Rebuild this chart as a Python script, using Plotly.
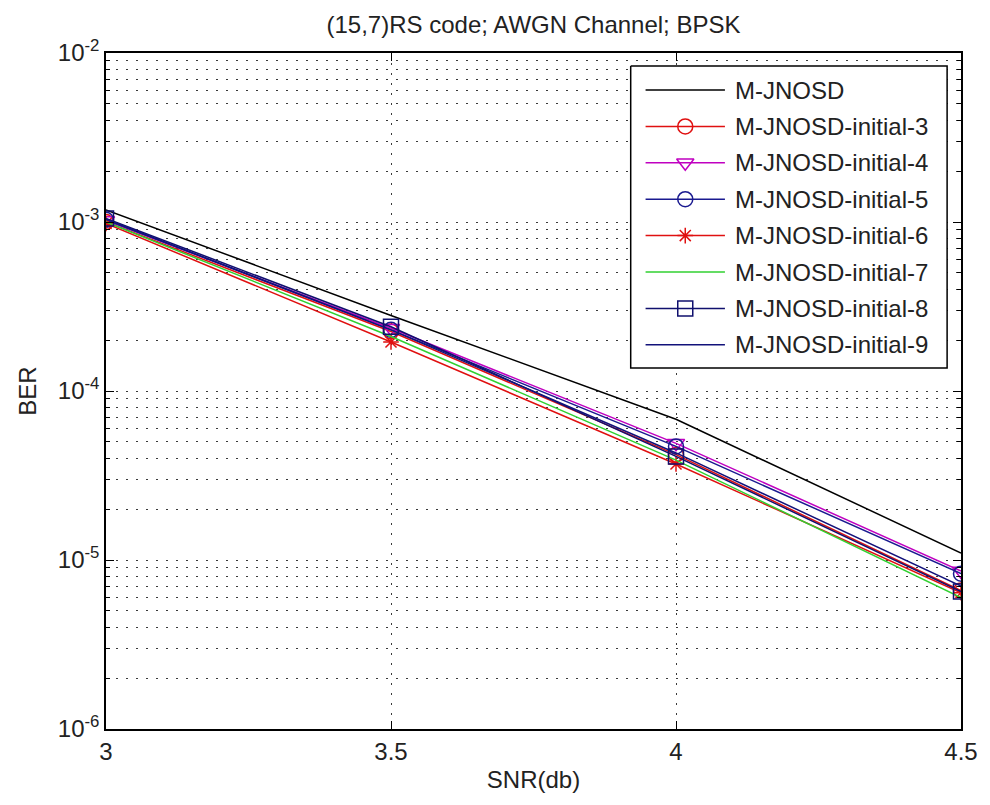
import plotly.graph_objects as go

# ---- data -------------------------------------------------------------
snr_db = [3.0, 3.5, 4.0, 4.5]

series_names = [
    "M-JNOSD",
    "M-JNOSD-initial-3",
    "M-JNOSD-initial-4",
    "M-JNOSD-initial-5",
    "M-JNOSD-initial-6",
    "M-JNOSD-initial-7",
    "M-JNOSD-initial-8",
    "M-JNOSD-initial-9",
]

ber_mjnosd = [1.18e-3, 2.8e-4, 6.8e-5, 1.1e-5]
ber_init3 = [1.00e-3, 2.25e-4, 4.2e-5, 6.6e-6]
ber_init4 = [1.02e-3, 2.35e-4, 4.9e-5, 8.6e-6]
ber_init5 = [1.03e-3, 2.30e-4, 4.7e-5, 8.3e-6]
ber_init6 = [0.98e-3, 1.95e-4, 3.7e-5, 6.4e-6]
ber_init7 = [1.00e-3, 2.10e-4, 3.9e-5, 6.0e-6]
ber_init8 = [1.05e-3, 2.40e-4, 4.1e-5, 6.5e-6]
ber_init9 = [1.04e-3, 2.30e-4, 4.3e-5, 7.0e-6]

series_values = [ber_mjnosd, ber_init3, ber_init4, ber_init5,
                 ber_init6, ber_init7, ber_init8, ber_init9]

y_tick_vals = [1e-6, 1e-5, 1e-4, 1e-3, 1e-2]
y_tick_text = ["10<sup>-6</sup>", "10<sup>-5</sup>", "10<sup>-4</sup>",
               "10<sup>-3</sup>", "10<sup>-2</sup>"]
x_tick_vals = [3, 3.5, 4, 4.5]
x_tick_text = ["3", "3.5", "4", "4.5"]

# ---- styles -----------------------------------------------------------
colors = ["#000000", "#e01010", "#c000c0", "#1a1a90",
          "#e01010", "#30d030", "#10106e", "#12127a"]
symbols = [None, "circle-open", "triangle-down-open", "circle-open",
           "asterisk-open", None, "square-open", None]
marker_sizes = [0, 15, 15, 15, 13, 0, 15, 0]

FONT = "Liberation Sans, Arial, sans-serif"
TEXT_COLOR = "#222222"
W, H = 990, 805
ML, MR, MT, MB = 106, 22, 53, 76
PW, PH = W - ML - MR, H - MT - MB


def px_x(p):
    return (p - ML) / PW


def px_y(p):
    return (H - MB - p) / PH


fig = go.Figure()

for name, vals, col, sym, ms in zip(series_names, series_values, colors,
                                    symbols, marker_sizes):
    mode = "lines+markers" if sym else "lines"
    fig.add_trace(go.Scatter(
        x=snr_db, y=vals, mode=mode, name=name, showlegend=False,
        line=dict(color=col, width=1.5),
        marker=dict(symbol=sym or "circle", size=ms, color=col,
                    line=dict(color=col, width=1.5)),
    ))

# ---- legend box (overlay axes in paper units) -------------------------
box_l, box_r, box_t, box_b = px_x(635), px_x(954), px_y(66), px_y(368)
fig.add_trace(go.Scatter(
    x=[box_l, box_r, box_r, box_l, box_l],
    y=[box_t, box_t, box_b, box_b, box_t],
    mode="lines", fill="toself", fillcolor="white",
    line=dict(color="black", width=1.5),
    xaxis="x2", yaxis="y2", showlegend=False, hoverinfo="skip",
))

row0, row_step = 90, 36.4
seg_l, seg_m, seg_r, text_x = 650, 690, 730, 738
for i, (name, col, sym, ms) in enumerate(zip(series_names, colors,
                                             symbols, marker_sizes)):
    ry = px_y(row0 + i * row_step)
    fig.add_trace(go.Scatter(
        x=[px_x(seg_l), px_x(seg_r)], y=[ry, ry], mode="lines",
        line=dict(color=col, width=1.5),
        xaxis="x2", yaxis="y2", showlegend=False, hoverinfo="skip",
    ))
    if sym:
        fig.add_trace(go.Scatter(
            x=[px_x(seg_m)], y=[ry], mode="markers",
            marker=dict(symbol=sym, size=ms, color=col,
                        line=dict(color=col, width=1.5)),
            xaxis="x2", yaxis="y2", showlegend=False, hoverinfo="skip",
        ))
    fig.add_annotation(
        x=px_x(text_x), y=ry, xref="paper", yref="paper",
        text=name, showarrow=False, xanchor="left", yanchor="middle",
        font=dict(family=FONT, size=24, color=TEXT_COLOR),
    )

grid_dash = "2px,8px"
axis_common = dict(
    showline=True, linecolor="black", linewidth=1.5, mirror="allticks",
    ticks="inside", ticklen=8, tickwidth=1.2, tickcolor="black",
    showgrid=True, gridcolor="#3a3a3a", gridwidth=1.2, griddash=grid_dash,
    zeroline=False, tickfont=dict(family=FONT, size=24, color=TEXT_COLOR),
)

fig.update_layout(
    width=W, height=H,
    margin=dict(l=ML, r=MR, t=MT, b=MB),
    paper_bgcolor="white", plot_bgcolor="white",
    font=dict(family=FONT, size=24, color=TEXT_COLOR),
    showlegend=False,
    title=dict(text="(15,7)RS code; AWGN Channel; BPSK",
               x=0.5, xref="paper", y=1 - 25 / H, yref="container",
               yanchor="middle", xanchor="center",
               font=dict(family=FONT, size=24, color=TEXT_COLOR)),
    xaxis=dict(
        range=[3, 4.5], tickvals=x_tick_vals, ticktext=x_tick_text,
        title=dict(text="SNR(db)", standoff=8,
                   font=dict(family=FONT, size=24, color=TEXT_COLOR)),
        **axis_common,
    ),
    yaxis=dict(
        type="log", range=[-6, -2], tickvals=y_tick_vals,
        ticktext=y_tick_text,
        title=dict(text="BER", standoff=14,
                   font=dict(family=FONT, size=24, color=TEXT_COLOR)),
        minor=dict(dtick="D1", ticks="inside", ticklen=4,
                   tickcolor="black", showgrid=True, gridcolor="#3a3a3a",
                   gridwidth=1.2, griddash=grid_dash),
        **axis_common,
    ),
    xaxis2=dict(domain=[0, 1], range=[0, 1], overlaying="x",
                visible=False, fixedrange=True),
    yaxis2=dict(domain=[0, 1], range=[0, 1], overlaying="y",
                visible=False, fixedrange=True),
)

fig.write_html("out.html")
